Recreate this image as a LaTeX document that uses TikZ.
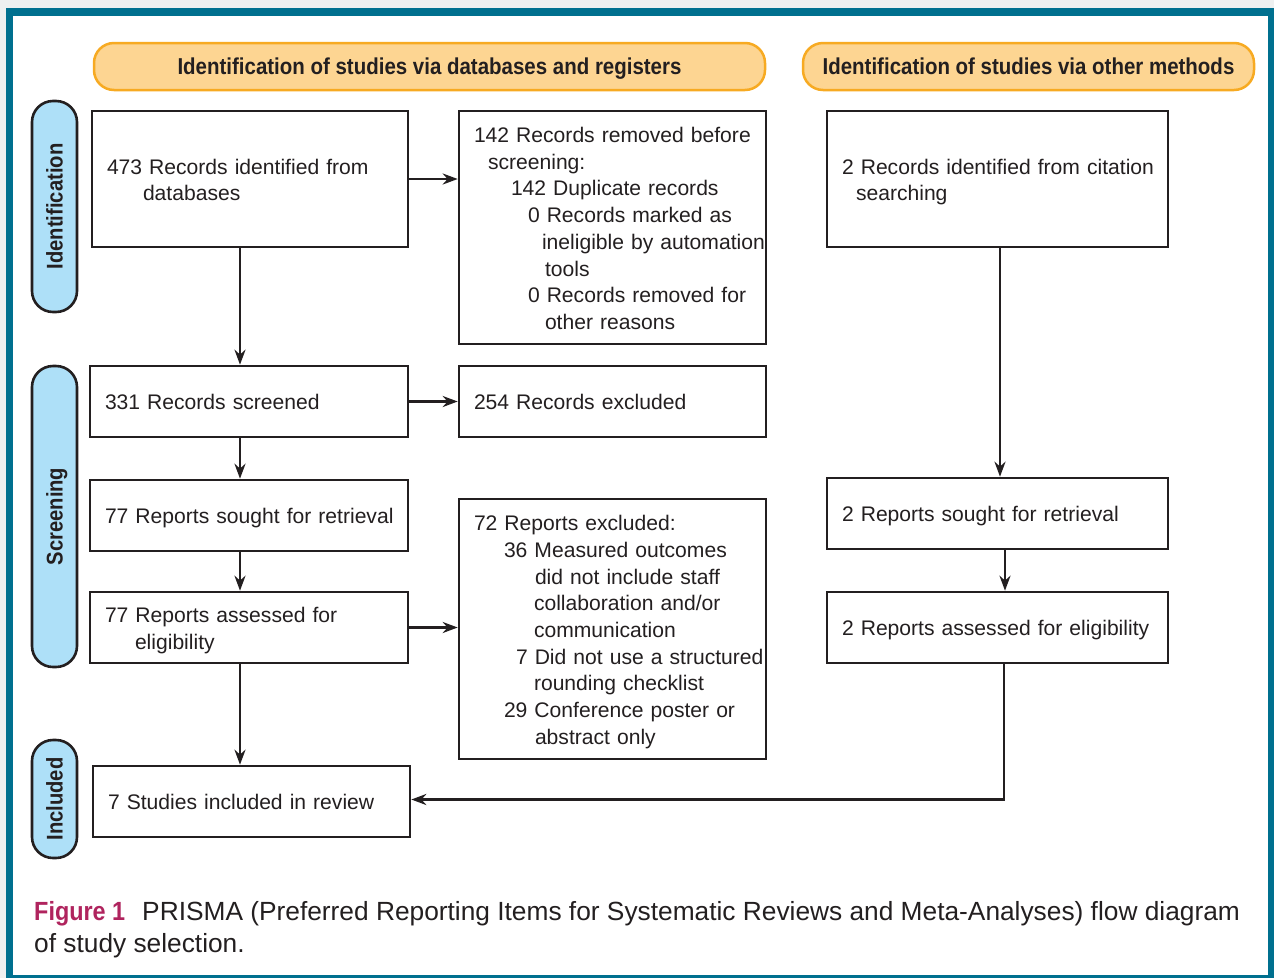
\documentclass[tikz,border=0pt]{standalone}
\usepackage{fontspec}
\setmainfont{Liberation Sans}
\newfontfamily\hdfont[FakeStretch=0.89]{Liberation Sans}
\usetikzlibrary{arrows.meta,calc}
\definecolor{frameblue}{HTML}{00708F}
\definecolor{outgray}{HTML}{EEF0F0}
\definecolor{ink}{HTML}{231F20}
\definecolor{hdfill}{HTML}{FDD592}
\definecolor{hdline}{HTML}{F7AA22}
\definecolor{pillfill}{HTML}{AEE0F8}
\definecolor{figmag}{HTML}{B0245E}
\newcommand{\lines}[1]{\raisebox{-8.3pt}[0pt][0pt]{\begin{tabular}{@{}l@{}}#1\end{tabular}}}
\begin{document}
\begin{tikzpicture}[x=1pt,y=-1pt,
  box/.style={draw=ink,line width=2.6pt,fill=white,rectangle,inner xsep=15pt,inner ysep=0pt,
    align=left,font=\fontsize{21.1}{26.7}\selectfont,text=ink},
  hdr/.style={draw=hdline,fill=hdfill,line width=2.5pt,rounded corners=20pt,minimum height=47pt,
    text height=16pt,text depth=0pt,inner ysep=0pt,
    font=\hdfont\bfseries\fontsize{23}{26}\selectfont,text=ink},
  pill/.style={draw=ink,fill=pillfill,line width=2.6pt,rounded corners=21pt,minimum height=45pt,
    text height=16pt,text depth=0pt,inner ysep=0pt,
    rotate=90,font=\hdfont\bfseries\fontsize{22.7}{26}\selectfont,text=ink},
  arr/.style={draw=ink,line width=2.5pt,-{Stealth[length=15pt,width=11pt]}}]
\useasboundingbox (0,0) rectangle (1274,978);
\fill[outgray] (0,0) rectangle (1274,978);
\fill[frameblue] (6,8) rectangle (1274,978);
\fill[white] (13,16) rectangle (1268,975);
% headers
\node[hdr,minimum width=671pt] (h1) at (429.5,66.5) {Identification of studies via databases and registers};
\node[hdr,minimum width=451pt] (h2) at (1028.5,66.5) {Identification of studies via other methods};
% side pills
\node[pill,minimum width=211pt] (p1) at (54.5,206.5) {Identification};
\node[pill,minimum width=301pt] (p2) at (54.5,516.5) {Screening};
\node[pill,minimum width=118pt] (p3) at (54.5,799) {Included};
% boxes
\node[box,text width=286pt,minimum height=136pt] (A) at (250,179)
  {\lines{473 Records identified from\\\hspace*{36pt}databases}};
\node[box,text width=277pt,minimum height=233pt] (B) at (612.5,227.5)
  {\lines{142 Records removed before\\\hspace*{14pt}screening:\\\hspace*{37pt}142 Duplicate records\\
   \hspace*{54pt}0 Records marked as\\\hspace*{68pt}ineligible by automation\\\hspace*{71pt}tools\\
   \hspace*{54pt}0 Records removed for\\\hspace*{71pt}other reasons}};
\node[box,text width=311pt,minimum height=136pt] (C) at (997.5,179)
  {\lines{2 Records identified from citation\\\hspace*{14pt}searching}};
\node[box,text width=288pt,minimum height=71pt] (D) at (249,401.5) {\lines{331 Records screened}};
\node[box,text width=277pt,minimum height=71pt] (E) at (612.5,401.5) {\lines{254 Records excluded}};
\node[box,text width=288pt,minimum height=71pt] (F) at (249,515.5) {\lines{77 Reports sought for retrieval}};
\node[box,text width=288pt,minimum height=71pt] (G) at (249,627.5)
  {\lines{77 Reports assessed for\\\hspace*{30pt}eligibility}};
\node[box,text width=277pt,minimum height=260pt] (H) at (612.5,629)
  {\lines{72 Reports excluded:\\\hspace*{30pt}36 Measured outcomes\\\hspace*{61pt}did not include staff\\
   \hspace*{60pt}collaboration and/or\\\hspace*{60pt}communication\\
   \hspace*{42pt}7 Did not use a structured\\\hspace*{60pt}rounding checklist\\
   \hspace*{30pt}29 Conference poster or\\\hspace*{61pt}abstract only}};
\node[box,text width=287pt,minimum height=71pt] (I) at (251.5,801.5) {\lines{7 Studies included in review}};
\node[box,text width=311pt,minimum height=71pt] (J) at (997.5,513.5) {\lines{2 Reports sought for retrieval}};
\node[box,text width=311pt,minimum height=71pt] (K) at (997.5,627.5) {\lines{2 Reports assessed for eligibility}};
% arrows
\draw[arr] ([xshift=-10pt]A.south) -- ([xshift=-9pt]D.north);
\draw[arr] (A.east) -- (A.east -| B.west);
\draw[arr] (D.east) -- (E.west);
\draw[arr] ([xshift=-9pt]D.south) -- ([xshift=-9pt]F.north);
\draw[arr] ([xshift=-9pt]F.south) -- ([xshift=-9pt]G.north);
\draw[arr] (G.east) -- (G.east -| H.west);
\draw[arr] ([xshift=-9pt]G.south) -- ([xshift=-11.5pt]I.north);
\draw[arr] ([xshift=2.5pt]C.south) -- ([xshift=2.5pt]J.north);
\draw[arr] ([xshift=7.5pt]J.south) -- ([xshift=7.5pt]K.north);
\draw[arr] ([xshift=6.5pt]K.south) |- ([yshift=2pt]I.east);
% caption
\node[anchor=base west,inner sep=0pt,font=\fontsize{26.3}{32}\selectfont,text=ink] (cap1) at (34,920)
  {{\hdfont\bfseries\color{figmag}Figure 1}\hspace{17pt}PRISMA (Preferred Reporting Items for Systematic Reviews and Meta-Analyses) flow diagram};
\node[anchor=base west,inner sep=0pt,font=\fontsize{26.3}{32}\selectfont,text=ink] (cap2) at (34,952)
  {of study selection.};
\end{tikzpicture}
\end{document}
